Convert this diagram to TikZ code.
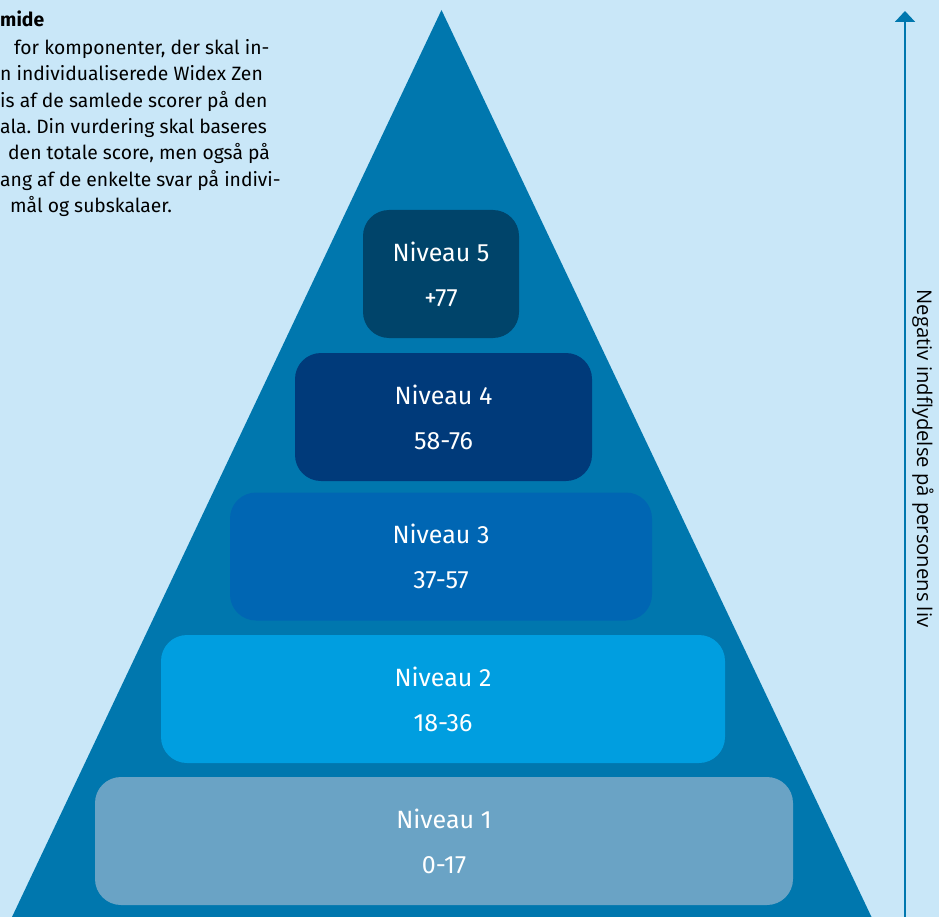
\documentclass[tikz,border=0pt]{standalone}
\usepackage{fontspec}
\setmainfont{Fira Sans}
\newfontfamily\sidefont{Open Sans}
\usepackage{tikz}
\usetikzlibrary{arrows.meta}
\frenchspacing

\definecolor{bgblue}{RGB}{201,231,248}
\definecolor{pyrblue}{RGB}{0,119,174}
\definecolor{lvlfive}{RGB}{0,68,106}
\definecolor{lvlfour}{RGB}{0,58,122}
\definecolor{lvlthree}{RGB}{0,102,179}
\definecolor{lvltwo}{RGB}{0,158,224}
\definecolor{lvlone}{RGB}{106,163,197}

\tikzset{
  lvlbox/.style={rectangle, rounded corners=26pt, inner sep=0pt, minimum height=128pt,
    text=white, align=center, font=\fontsize{25}{45}\selectfont},
  bodyline/.style={anchor=base west, inner sep=0pt, font=\fontsize{19.3}{20}\selectfont},
}

\begin{document}
\begin{tikzpicture}[x=1pt,y=-1pt]
\useasboundingbox[fill=bgblue] (0,0) rectangle (939,917);

% the pyramid
\fill[pyrblue] (12,917) -- (441.5,10) -- (871.5,917) -- cycle;

\path
(441,274) node[lvlbox, fill=lvlfive, minimum width=156pt] (lvl5) {Niveau 5\\+77}
(443.5,417) node[lvlbox, fill=lvlfour, minimum width=297pt] (lvl4) {Niveau 4\\58-76}
(441,556.5) node[lvlbox, fill=lvlthree, minimum width=422pt] (lvl3) {Niveau 3\\37-57}
(443,699) node[lvlbox, fill=lvltwo, minimum width=564pt] (lvl2) {Niveau 2\\18-36}
(444,841) node[lvlbox, fill=lvlone, minimum width=698pt] (lvl1) {Niveau 1\\0-17};

% text cut off at the left edge
\path
(0,27) node[bodyline, font=\fontsize{19.3}{20}\selectfont\bfseries] (txt1) {mide}
(14,55) node[bodyline] (txt2) {for komponenter, der skal in-}
(0,81) node[bodyline] (txt3) {n individualiserede Widex Zen}
(0,108) node[bodyline] (txt4) {is af de samlede scorer på den}
(0,134) node[bodyline] (txt5) {ala. Din vurdering skal baseres}
(8,160) node[bodyline] (txt6) {den totale score, men også på}
(0,187) node[bodyline] (txt7) {ang af de enkelte svar på indivi-}
(10,213) node[bodyline] (txt8) {mål og subskalaer.};

% arrow at the right
\coordinate (arrlow) at (905,917);
\coordinate (arrhigh) at (905,11);
\draw[pyrblue, line width=2pt, -{Triangle[width=20pt,length=11pt]}] (arrlow) -- (arrhigh);
\node[rotate=-90, font=\sidefont\fontsize{20.2}{22}\selectfont] (sidetxt) at (923,458.5) {Negativ indflydelse på personens liv};

\end{tikzpicture}
\end{document}
